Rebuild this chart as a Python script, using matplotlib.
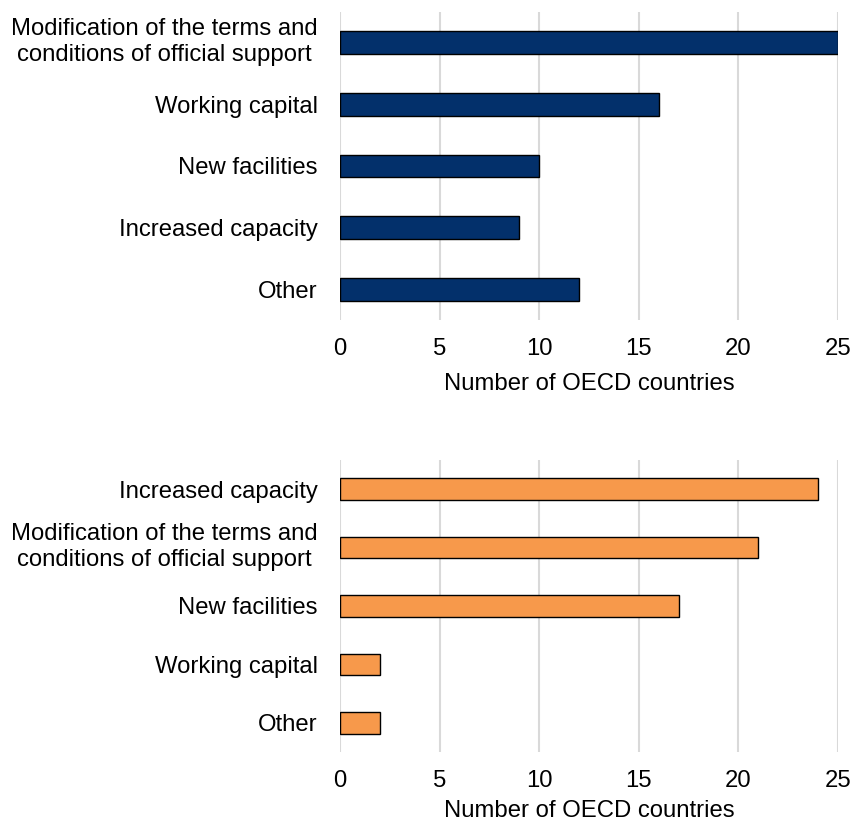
import matplotlib
matplotlib.use("Agg")
import matplotlib.pyplot as plt
import matplotlib.transforms as mtransforms

plt.rcParams['font.family'] = ['Liberation Sans', 'DejaVu Sans']

# top panel
top_labels = ["Modification of the terms and\nconditions of official support",
              "Working capital", "New facilities", "Increased capacity", "Other"]
top_values = [25, 16, 10, 9, 12]

# bottom panel
bottom_labels = ["Increased capacity",
                 "Modification of the terms and\nconditions of official support",
                 "New facilities", "Working capital", "Other"]
bottom_values = [24, 21, 17, 2, 2]

xticks = [0, 5, 10, 15, 20, 25]
xlabel = "Number of OECD countries"

navy = "#03306b"
orange = "#f7994b"
fs = 17.2

fig = plt.figure(figsize=(8.52, 8.26), dpi=100)
ax1 = fig.add_axes([0.399, 0.6126, 0.5846, 0.3729])
ax2 = fig.add_axes([0.399, 0.0896, 0.5846, 0.3535])


def draw(ax, labels, values, color, lpad):
    pos = list(range(len(labels)))
    ax.barh(pos, values, height=0.37, color=color, edgecolor="black",
            linewidth=1.0, zorder=3)
    ax.set_ylim(len(labels) - 0.5, -0.5)
    ax.set_xlim(0, 25)
    ax.set_xticks(xticks)
    ax.set_yticks(pos)
    ax.set_yticklabels(labels, fontsize=fs, multialignment="center",
                       linespacing=1.25)
    ax.tick_params(axis="y", length=0, pad=16)
    ax.tick_params(axis="x", length=0, pad=13, labelsize=fs)
    ax.grid(axis="x", color="#d9d9d9", linewidth=1.5, zorder=0)
    for s in ax.spines.values():
        s.set_visible(False)
    ax.set_xlabel(xlabel, fontsize=fs, labelpad=lpad)
    # two-line labels sit a little above the bar centre
    shift = mtransforms.ScaledTranslation(0, 4 / 72, fig.dpi_scale_trans)
    for t in ax.get_yticklabels():
        if "\n" in t.get_text():
            t.set_transform(t.get_transform() + shift)


draw(ax1, top_labels, top_values, navy, 9)
draw(ax2, bottom_labels, bottom_values, orange, 6)

fig.savefig("out.png", dpi=100, facecolor="white")
